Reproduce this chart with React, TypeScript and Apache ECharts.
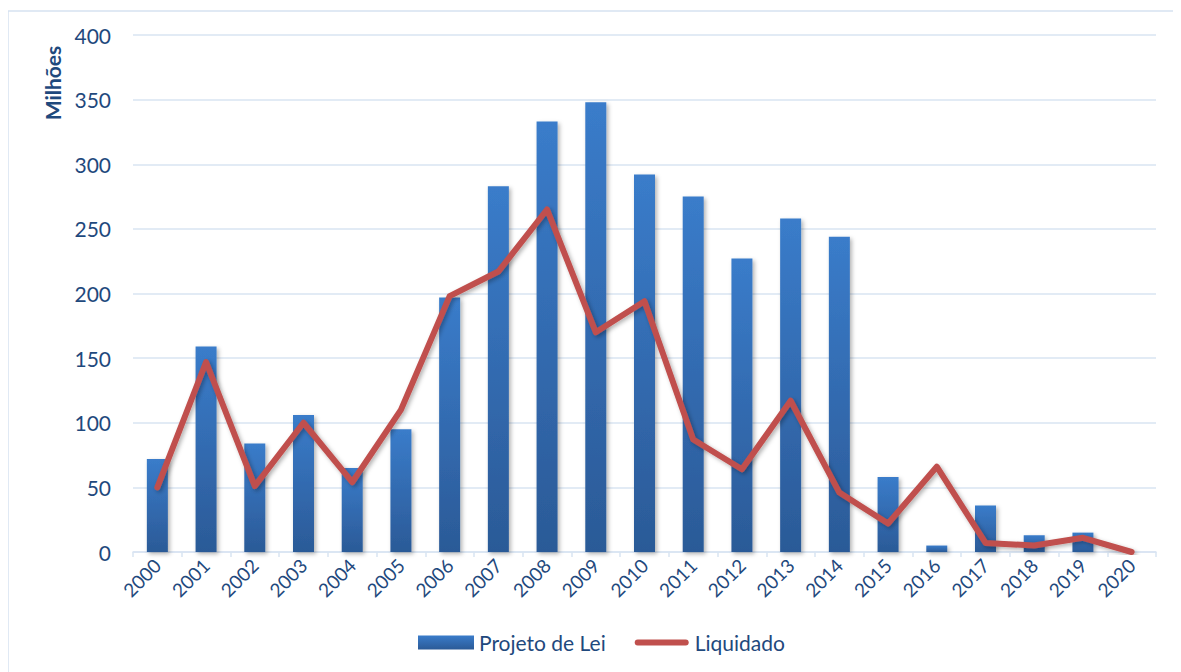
import React, { useEffect, useRef } from "react";
import * as echarts from "echarts";

const years = [
  "2000", "2001", "2002", "2003", "2004", "2005", "2006", "2007", "2008", "2009", "2010",
  "2011", "2012", "2013", "2014", "2015", "2016", "2017", "2018", "2019", "2020",
];

// Valores em milhões
const projetoDeLei = [
  72, 159, 84, 106, 65, 95, 197, 283, 333, 348, 292,
  275, 227, 258, 244, 58, 5, 36, 13, 15, 0,
];

const liquidado = [
  50, 147, 51, 100, 54, 110, 198, 217, 265, 170, 194,
  87, 64, 117, 46, 22, 66, 7, 5, 11, 0,
];

const yTicks = { min: 0, max: 400, interval: 50 };

const TEXT_COLOR = "#1f497d";
const GRID_COLOR = "#d9e4f2";
const FONT = "Lato, 'Open Sans', sans-serif";

// Rounded stroke icon for the line series in the legend (leading moves fix the icon box)
const LINE_ICON = "path://M0,0 M56,14 M4,4 L52,4 A3,3 0 0 1 52,10 L4,10 A3,3 0 0 1 4,4 Z";

export default function App() {
  const ref = useRef<HTMLDivElement>(null);

  useEffect(() => {
    if (!ref.current) return;
    const chart = echarts.init(ref.current, undefined, { renderer: "svg" });

    const barGradient = new echarts.graphic.LinearGradient(0, 0, 0, 1, [
      { offset: 0, color: "#3a7cca" },
      { offset: 1, color: "#2b5a97" },
    ]);

    chart.setOption({
      animation: false,
      backgroundColor: "#ffffff",
      textStyle: { fontFamily: FONT },
      graphic: [
        {
          type: "rect",
          shape: { x: 0, y: 3, width: 1300, height: 800 },
          style: { fill: "none", stroke: "#d6e2f1", lineWidth: 1.5 },
          silent: true,
          z: -10,
        },
        {
          type: "text",
          x: 44,
          y: 75,
          rotation: Math.PI / 2,
          style: {
            text: "Milhões",
            fill: TEXT_COLOR,
            font: `bold 21px ${FONT}`,
            textAlign: "center",
            textVerticalAlign: "middle",
          },
        },
      ],
      grid: { left: 125, right: 25, top: 27, bottom: 120, containLabel: false },
      legend: {
        left: 405,
        top: 619,
        itemWidth: 56,
        itemHeight: 14,
        itemGap: 28,
        textStyle: { color: TEXT_COLOR, fontSize: 21, fontFamily: FONT },
        data: [
          { name: "Projeto de Lei", icon: "rect" },
          { name: "Liquidado", icon: LINE_ICON, itemStyle: { color: "#c0504d" } },
        ],
      },
      xAxis: {
        type: "category",
        data: years,
        boundaryGap: true,
        axisLine: { lineStyle: { color: GRID_COLOR, width: 1.5 } },
        axisTick: { show: true, length: 5, lineStyle: { color: GRID_COLOR, width: 1.5 } },
        axisLabel: {
          rotate: 45,
          color: TEXT_COLOR,
          fontSize: 19,
          fontFamily: FONT,
          margin: 10,
          interval: 0,
        },
      },
      yAxis: {
        type: "value",
        min: yTicks.min,
        max: yTicks.max,
        interval: yTicks.interval,
        axisLine: { show: false },
        axisTick: { show: false },
        splitLine: { lineStyle: { color: GRID_COLOR, width: 1.5 } },
        axisLabel: { color: TEXT_COLOR, fontSize: 21, fontFamily: FONT, margin: 22 },
      },
      series: [
        {
          name: "Projeto de Lei",
          type: "bar",
          data: projetoDeLei,
          barWidth: 21,
          itemStyle: {
            color: barGradient,
            shadowBlur: 4,
            shadowOffsetX: 2,
            shadowOffsetY: 2,
            shadowColor: "rgba(0,0,0,0.3)",
          },
        },
        {
          name: "Liquidado",
          type: "line",
          data: liquidado,
          symbol: "none",
          smooth: false,
          lineStyle: {
            color: "#c0504d",
            width: 6,
            cap: "round",
            join: "round",
            shadowBlur: 4,
            shadowOffsetX: 2,
            shadowOffsetY: 2,
            shadowColor: "rgba(0,0,0,0.3)",
          },
          itemStyle: { color: "#c0504d" },
          z: 3,
        },
      ],
    });

    return () => chart.dispose();
  }, []);

  return <div ref={ref} style={{ width: 1173, height: 664 }} />;
}
